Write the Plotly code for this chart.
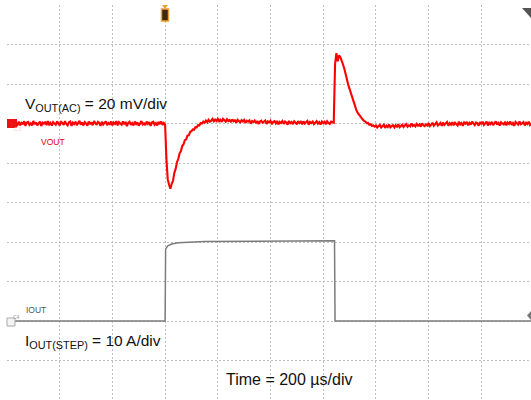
import plotly.graph_objects as go

# time base: 200 us/div, 10 divisions, VOUT read every 5 us
t_vout_us = list(range(0, 2005, 5))

# VOUT (AC coupled) in mV
vout_mv = [
    0.7, -0.8, 1.2, -0.3, 0.4, -1.1, 0.9, 0.2, -0.6, 1.0, -0.9, 0.3, -0.2, 1.1, -1.2, 0.5, 0.8, -0.7, 0.1, -1.0,
    1.3, -0.4, 0.6, -0.9, 0.2, 1.0, -1.3, 0.4, -0.1, 0.9, -0.8, 1.2, -0.5, 0.3, -1.1, 0.7, 0.0, -0.6, 1.1, -0.3,
    -1.0, 0.8, 0.3, -0.7, 1.2, -0.2, -0.9, 0.6, 1.0, -1.2, 0.4, -0.3, 0.9, -0.8, 0.2, 1.3, -0.6, 0.5, -1.0, 0.7,
    0.1, -1.1, 1.0, -0.4, 0.6, -0.9, 1.2, -0.1, -0.7, 0.8, 0.3, -1.2, 0.9, -0.5, 0.4, 1.1, -0.8, 0.2, -0.3, 1.0,
    -0.9, 0.5, -0.2, 1.2, -1.0, 0.7, 0.0, -0.6, 1.1, -0.4, 0.8, -1.3, 0.3, 0.9, -0.7, 0.2, -1.0, 1.0, -0.3, 0.6,
    -1.1, 0.4, 1.2, -0.5, 0.1, -0.8, 1.0, -0.2, 0.7, -1.2, 0.5, 0.9, -0.6, 0.2, -1.0, 0.8, -0.3, 1.1, -0.7, 0.3,
    -0.5, -18.0, -28.3, -31.0, -33.0, -30.6, -29.0, -25.0, -23.0, -19.6, -18.0, -15.1, -14.0, -11.4, -10.5, -8.4, -8.0, -6.1, -6.0, -4.2,
    -3.9, -3.0, -3.2, -1.9, -2.0, -0.8, -1.0, 0.2, 0.0, 1.0, 0.4, 1.5, 0.6, 1.9, 0.9, 1.4, 2.3, 1.1, 2.0, 1.3,
    2.4, 1.2, 1.9, 0.8, 2.3, 1.6, 0.9, 2.2, 1.3, 1.8, 0.7, 2.1, 1.1, 1.6, 0.4, 1.9, 1.2, 0.6, 1.7, 1.0,
    1.8, 0.3, 1.4, 0.9, 1.6, -0.1, 1.2, 0.7, 1.5, 0.2, 1.3, -0.3, 1.0, 1.4, 0.4, 0.8, 1.5, -0.2, 1.1, 0.6,
    1.4, -0.4, 0.9, 1.2, 0.1, 1.3, -0.5, 0.8, 0.3, 1.2, -0.2, 1.0, 0.5, -0.6, 1.3, 0.2, 0.7, -0.3, 1.1, 0.4,
    -0.5, 1.2, 0.3, 0.9, -0.4, 1.1, 0.0, 0.6, 1.3, -0.6, 0.8, 0.2, 1.0, -0.3, 0.5, 1.2, -0.1, 0.7, -0.5, 1.0,
    0.2, 0.9, -0.4, 1.1, 0.3, -0.2, 1.0, 0.5, 0.4, 30.0, 35.6, 31.5, 34.5, 33.6, 32.2, 30.0, 27.8, 24.6, 22.8, 19.6,
    17.5, 15.2, 13.0, 10.8, 8.7, 7.2, 5.6, 4.6, 3.4, 2.8, 2.0, 1.3, 1.0, 0.2, 0.3, -0.6, -0.4, -1.2, -0.9, -1.6,
    -1.0, -2.1, -1.3, -0.7, -2.0, -1.5, -0.6, -2.2, -1.1, -1.8, -0.5, -1.9, -1.4, -0.8, -2.0, -0.9, -1.6, -0.4, -1.9, -1.2,
    -0.6, -1.8, -1.0, -0.3, -1.6, -0.9, -1.4, 0.0, -1.2, -0.7, -1.5, -0.2, -1.1, -0.5, -1.6, 0.1, -0.9, -1.3, -0.4, -1.0,
    0.2, -1.3, -0.6, 0.4, -1.1, -0.2, 0.6, -1.0, -0.5, 0.3, -1.2, 0.5, -0.7, -0.1, 0.8, -1.1, 0.2, -0.6, 0.7, -0.9,
    0.4, -0.3, -1.0, 0.9, -0.5, 0.2, -1.2, 0.6, -0.1, 0.8, -0.9, 0.3, -0.6, 1.0, -0.2, -0.8, 0.5, 0.1, -1.1, 0.7,
    -0.4, 0.9, -0.7, 0.2, 1.0, -1.0, 0.4, -0.3, 0.8, -0.8, 0.1, 1.1, -0.6, 0.3, -1.1, 0.6, 0.0, -0.5, 0.9, -0.9,
    0.5, -0.2, 1.0, -0.7, 0.2, -1.2, 0.8, 0.3, -0.6, 1.1, -0.4, 0.0, 0.7, -1.0, 0.4, -0.3, 0.9, -0.8, 0.2, 0.6,
    -0.4,
]

# IOUT step in A
t_iout_us = [0, 600, 602, 610, 625, 650, 750, 1000, 1243, 1245, 2000]
iout_a = [0, 0, 18.2, 19.0, 19.5, 19.8, 20.1, 20.25, 20.3, 0, 0]

W, H = 531, 400
L, T = 7, 5
PW, PH = W - L, H - T


def px(x):
    return (x - L) / PW


def py(y):
    return (H - y) / PH


fig = go.Figure()

fig.add_trace(go.Scatter(
    x=t_vout_us[:len(vout_mv)], y=vout_mv, mode="lines", name="VOUT",
    line=dict(color="#ff0000", width=2.1), yaxis="y",
))
fig.add_trace(go.Scatter(
    x=t_iout_us, y=iout_a, mode="lines", name="IOUT",
    line=dict(color="#7c7c7c", width=1.5), yaxis="y2",
))

grid = dict(showgrid=True, gridcolor="#bdbdbd", gridwidth=1, griddash="2px,2px",
            zeroline=False, showticklabels=False, ticks="", showline=False)

fig.update_layout(
    width=W, height=H,
    margin=dict(l=L, r=0, t=T, b=0),
    paper_bgcolor="white", plot_bgcolor="white",
    showlegend=False,
    font=dict(family="Arial, Liberation Sans, sans-serif", color="#111"),
    xaxis=dict(range=[0, 2000 * PW / 527], dtick=200, tick0=0, **grid),
    yaxis=dict(range=[-140, 60], dtick=20, tick0=0, **grid),
    yaxis2=dict(range=[-20, 80], overlaying="y", showgrid=False, zeroline=False,
                showticklabels=False, ticks=""),
)

ann = [
    dict(x=px(23), y=py(104), text="V<sub>OUT(AC)</sub> = 20 mV/div",
         font=dict(size=15.5, color="#111")),
    dict(x=px(39), y=py(142), text="VOUT", font=dict(size=8.5, color="#e00000")),
    dict(x=px(24), y=py(310), text="IOUT", font=dict(size=8.5, color="#555")),
    dict(x=px(23), y=py(341), text="I<sub>OUT(STEP)</sub> = 10 A/div",
         font=dict(size=15.5, color="#111")),
    dict(x=px(224), y=py(379), text="Time = 200 µs/div",
         font=dict(size=16, color="#111")),
]
for a in ann:
    fig.add_annotation(xref="paper", yref="paper", xanchor="left", yanchor="middle",
                       showarrow=False, **a)

# channel tags at left edge
fig.add_shape(type="rect", xref="paper", yref="paper", x0=px(7), x1=px(17),
              y0=py(128), y1=py(119), fillcolor="#ee1111", line=dict(width=0))
fig.add_annotation(xref="paper", yref="paper", x=px(12), y=py(123.5), text="C3",
                   showarrow=False, font=dict(size=6, color="#ffcccc"))
fig.add_shape(type="rect", xref="paper", yref="paper", x0=px(7), x1=px(15),
              y0=py(326), y1=py(318), fillcolor="#f4f4f4",
              line=dict(width=1, color="#aaaaaa"))
fig.add_annotation(xref="paper", yref="paper", x=px(11), y=py(322), text="C4",
                   showarrow=False, font=dict(size=5, color="#999"))

# trigger marker at top
fig.add_shape(type="path", xref="paper", yref="paper",
              path=f"M {px(162)} {py(5)} L {px(168)} {py(5)} L {px(165)} {py(9)} Z",
              fillcolor="#f0a030", line=dict(width=0))
fig.add_shape(type="rect", xref="paper", yref="paper", x0=px(161.5), x1=px(168.5),
              y0=py(21), y1=py(9), fillcolor="#3a2a10",
              line=dict(width=1.5, color="#f0a030"))

# top-right trigger position triangle
fig.add_shape(type="path", xref="paper", yref="paper",
              path=f"M {px(522)} {py(8)} L {px(531)} {py(8)} L {px(531)} {py(18)} Z",
              fillcolor="#555555", line=dict(width=0))

# right edge level arrow
fig.add_shape(type="path", xref="paper", yref="paper",
              path=f"M {px(527)} {py(315.5)} L {px(531)} {py(311)} L {px(531)} {py(320)} Z",
              fillcolor="#777777", line=dict(width=0))

fig.write_html("out.html", config={"displayModeBar": False},
               post_script="document.body.style.margin='0';")
